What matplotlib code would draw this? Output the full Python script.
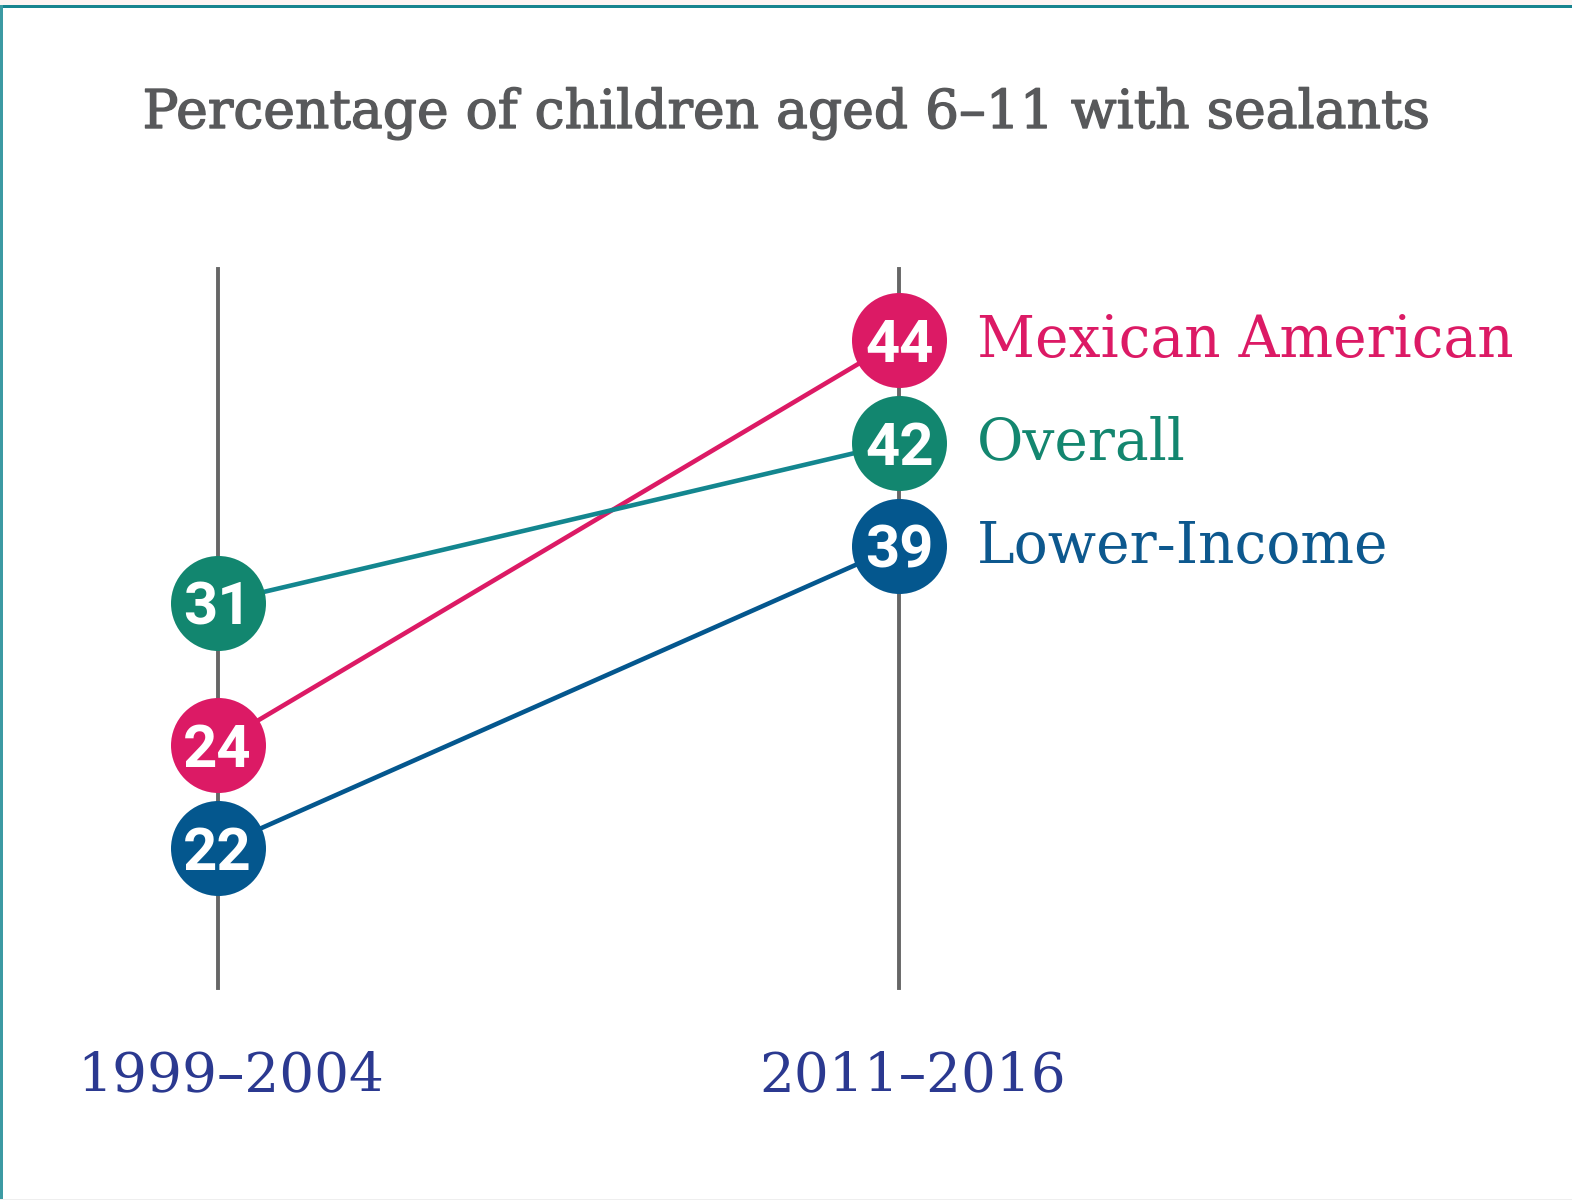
import numpy as np
import matplotlib
matplotlib.use("Agg")
import matplotlib.pyplot as plt
import matplotlib.patheffects as pe
from matplotlib.patches import Rectangle
from matplotlib.transforms import blended_transform_factory

# ---- data ----
periods = ["1999–2004", "2011–2016"]
series_names = ["Mexican American", "Overall", "Lower-Income"]
mexican_american = [24, 44]
overall = [31, 42]
lower_income = [22, 39]
title = "Percentage of children aged 6–11 with sealants"

values = [mexican_american, overall, lower_income]
circle_colors = ["#DC1A65", "#12866F", "#04578E"]
line_colors = ["#DC1A65", "#13868F", "#04578E"]
label_colors = ["#DC1A65", "#13866F", "#0D588E"]

W, H = 1572, 1200
fig = plt.figure(figsize=(W / 100, H / 100), dpi=100)
fig.patch.set_facecolor("white")

# frame decoration
fig.add_artist(Rectangle((0, 1 - 5 / H), 1, 5 / H, transform=fig.transFigure,
                         facecolor="#FCF4F3", edgecolor="none", zorder=0))
fig.add_artist(Rectangle((0, 1 - 7.5 / H), 1, 2.5 / H, transform=fig.transFigure,
                         facecolor="#17848F", edgecolor="none", zorder=1))
fig.add_artist(Rectangle((0, 0), 2.5 / W, 1 - 5 / H, transform=fig.transFigure,
                         facecolor="#3C9AA3", edgecolor="none", zorder=1))
fig.add_artist(Rectangle((0, 0), 1, 1.5 / H, transform=fig.transFigure,
                         facecolor="#EEEEEE", edgecolor="none", zorder=1))

ax = fig.add_axes([217.5 / W, 1 - 987.5 / H, (899.3 - 217.5) / W, (987.5 - 268.7) / H])
ax.set_xlim(0, 1)
ax.set_ylim(12, 47.5)
ax.axis("off")

xs = np.arange(len(periods))
for x in xs:
    ax.axvline(x, color="#666666", lw=2.8, zorder=1, clip_on=False)

# dodge overlapping circles (min distance in data units derived from marker size)
marker_px = 95
gap_px = 103
px_per_unit = ax.bbox.height / (ax.get_ylim()[1] - ax.get_ylim()[0])
gap = gap_px / px_per_unit

vals = np.array(values, dtype=float)  # series x period
pos = vals.copy()
for j in range(len(periods)):
    order = np.argsort(vals[:, j])[::-1]
    for k in range(1, len(order)):
        i, p = order[k], order[k - 1]
        if pos[i, j] > pos[p, j] - gap:
            pos[i, j] = pos[p, j] - gap

ms = marker_px * 0.72
for i, name in enumerate(series_names):
    ax.plot(xs, pos[i], color=line_colors[i], lw=3.3, zorder=2,
            solid_capstyle="butt", clip_on=False)
    ax.plot(xs, pos[i], "o", ms=ms, color=circle_colors[i], mec="none", zorder=3,
            clip_on=False)
    for j in range(len(periods)):
        ax.text(xs[j], pos[i, j], f"{int(vals[i, j])}", ha="center", va="center_baseline",
                color="white", fontsize=43, fontweight="bold", family="Roboto",
                zorder=4, clip_on=False)
    ax.annotate(name, (xs[-1], pos[i, -1]), xytext=(56, -12.2), textcoords="offset points",
                ha="left", va="baseline", color=label_colors[i], fontsize=40.8,
                family="DejaVu Serif", annotation_clip=False)

trans = blended_transform_factory(ax.transData, fig.transFigure)
for j, p in enumerate(periods):
    ax.text(xs[j] + 0.02, 1 - 1091 / H, p, transform=trans, ha="center", va="baseline",
            color="#2B3990", fontsize=39.5, family="DejaVu Serif", clip_on=False)

fig.text(0.5, 1 - 128 / H, title, ha="center", va="baseline", color="#58595B",
         fontsize=38.5, family="DejaVu Serif",
         path_effects=[pe.withStroke(linewidth=1.0, foreground="#58595B")])

fig.savefig("out.png", dpi=100, facecolor="white")
